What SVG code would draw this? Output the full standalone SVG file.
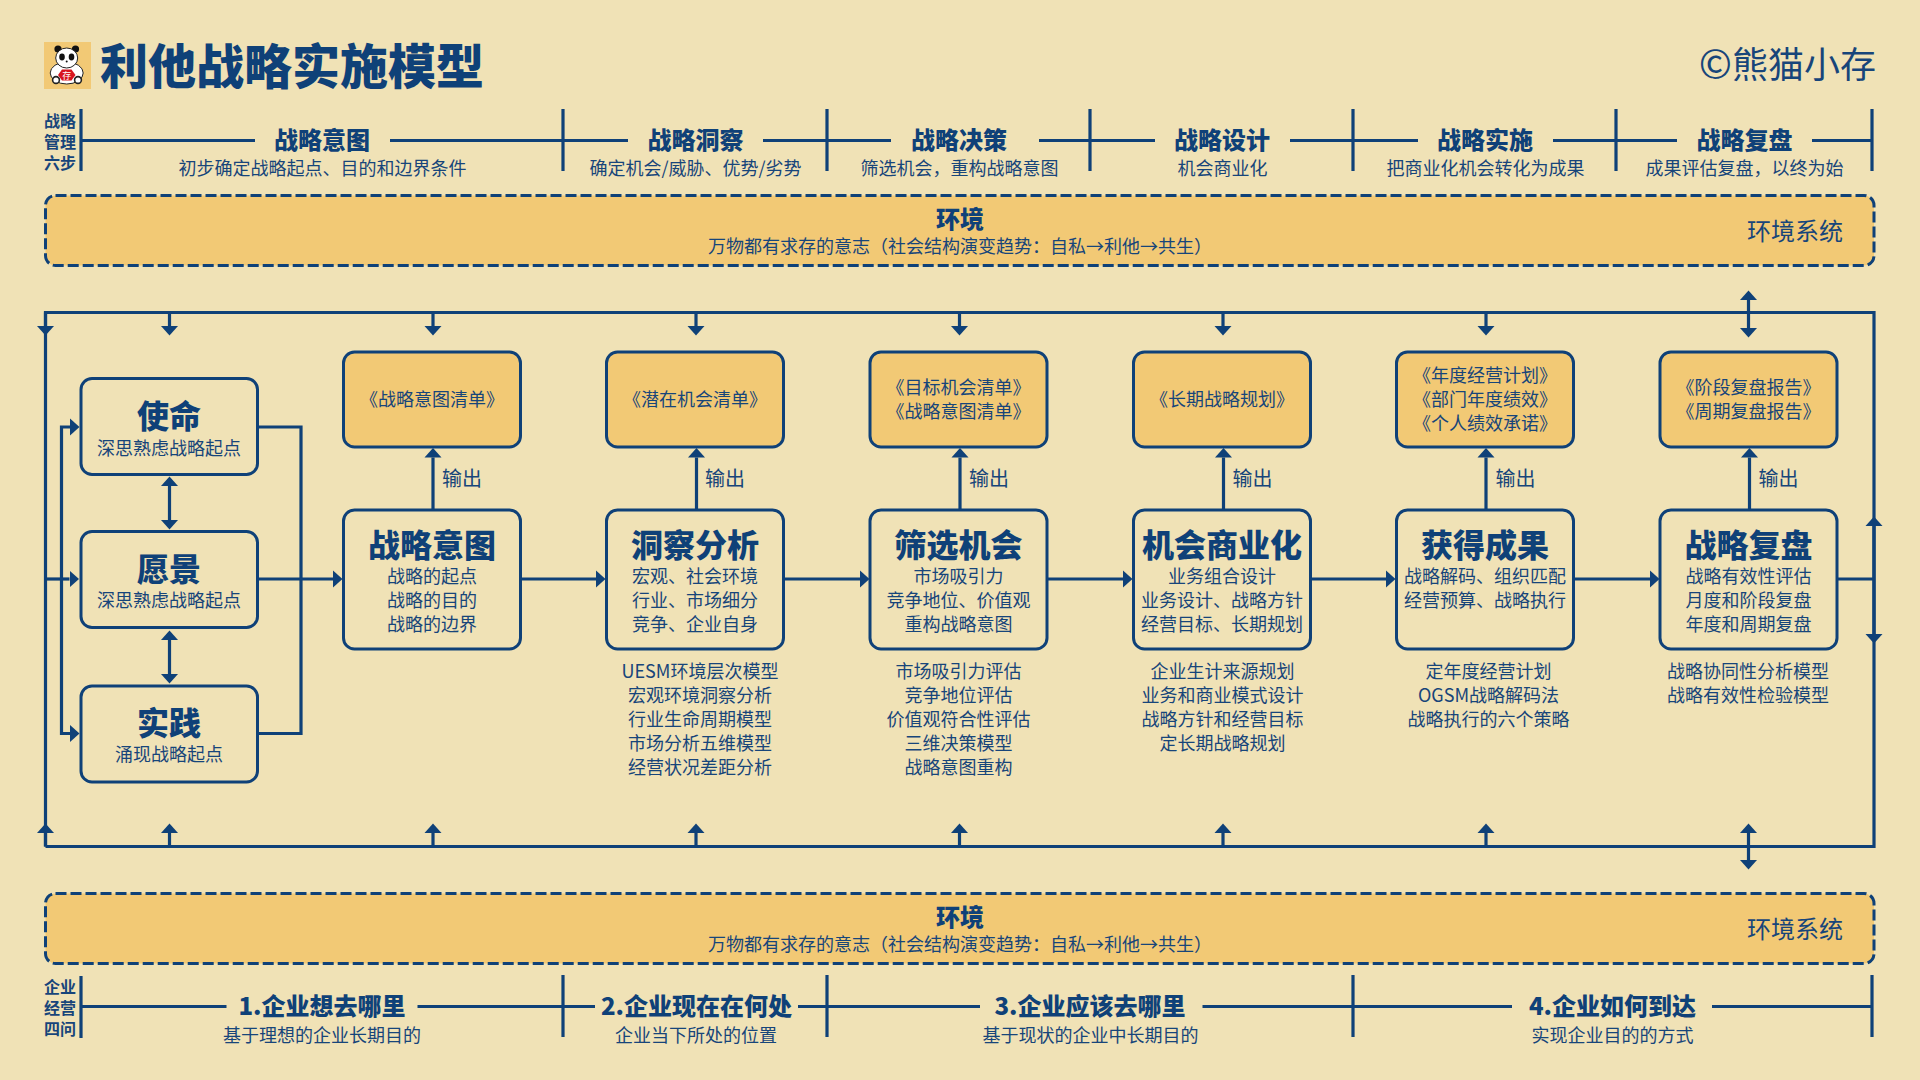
<svg xmlns="http://www.w3.org/2000/svg" width="1920" height="1080" viewBox="0 0 1920 1080">
<style>
text{font-family:"Noto Sans CJK SC","Microsoft YaHei",sans-serif;fill:#17457a;text-anchor:middle}
.t48{font-size:48px;font-weight:900;fill:#0f4178;text-anchor:start}
.t32{font-size:32px;font-weight:900;fill:#0f4178}
.t24{font-size:24px;font-weight:900;fill:#0f4178}
.t24r{font-size:24px}
.t20{font-size:20px}
.t18{font-size:18px}
.t16{font-size:16px;font-weight:700;fill:#0f4178}
.box{fill:#f0e2b6;stroke:#0f4178;stroke-width:3}
.out{fill:#f2c975;stroke:#0f4178;stroke-width:3}
.env{fill:#f2c975;stroke:#0f4178;stroke-width:3;stroke-dasharray:11 4}
.l{fill:none;stroke:#0f4178;stroke-width:3.2}
.a{fill:none;stroke:#0f4178;stroke-width:3.2;marker-end:url(#ah)}
.d{fill:none;stroke:#0f4178;stroke-width:3.2;marker-start:url(#ah);marker-end:url(#ah)}
</style>
<defs>
<marker id="ah" markerUnits="userSpaceOnUse" markerWidth="12" markerHeight="20" viewBox="0 -10 12 20" refX="0" refY="0" orient="auto-start-reverse"><path d="M0,-8.5 L9.5,0 L0,8.5 Z" fill="#0f4178"/></marker>
</defs>
<rect width="1920" height="1080" fill="#f0e2b6"/>

<g id="title">
<rect x="44" y="42" width="47" height="47" fill="#f2c975"/>
<circle cx="58" cy="49" r="3.6" fill="#111"/><circle cx="75.500" cy="49" r="3.6" fill="#111"/>
<ellipse cx="66.700" cy="73" rx="16.500" ry="11" fill="#fff" stroke="#222" stroke-width="1"/>
<ellipse cx="66.700" cy="58" rx="11" ry="10" fill="#fff" stroke="#222" stroke-width="1"/>
<ellipse cx="62" cy="57" rx="2.800" ry="3.400" fill="#111"/><ellipse cx="71.500" cy="57" rx="2.800" ry="3.400" fill="#111"/>
<circle cx="66.700" cy="61.500" r="1" fill="#111"/>
<path d="M58,75 L62,69.500 H71.500 L75.500,75 L71.500,80.500 H62 Z" fill="#d8141f"/>
<circle cx="56" cy="80" r="3.400" fill="#fff" stroke="#222" stroke-width="1.600"/><circle cx="78" cy="80" r="3.400" fill="#fff" stroke="#222" stroke-width="1.600"/>
<text x="66.700" y="78.500" style="font-size:9px;fill:#fff">存</text>
<text class="t48" x="100" y="84">利他战略实施模型</text>
<text x="1876" y="78" style="font-size:36px;text-anchor:end"><tspan style="font-size:40px">©</tspan>熊猫小存</text>
</g>

<g id="top-steps">
<path class="l" d="M81,109V171M563,109V171M827,109V171M1090,109V171M1353,109V171M1616,109V171M1872,109V171"/>
<path class="l" d="M81,140.500H255M390,140.500H628M763,140.500H891M1039,140.500H1155M1290,140.500H1418M1553,140.500H1677M1812,140.500H1872"/>
<g class="t16"><text x="60" y="127">战略</text><text x="60" y="148">管理</text><text x="60" y="169">六步</text></g>
<text class="t24" x="322" y="149">战略意图</text><text class="t18" x="322.500" y="174.500">初步确定战略起点、目的和边界条件</text>
<text class="t24" x="695.500" y="149">战略洞察</text><text class="t18" x="695.500" y="174.500">确定机会/威胁、优势/劣势</text>
<text class="t24" x="959" y="149">战略决策</text><text class="t18" x="959.500" y="174.500">筛选机会，重构战略意图</text>
<text class="t24" x="1222" y="149">战略设计</text><text class="t18" x="1222.500" y="174.500">机会商业化</text>
<text class="t24" x="1485" y="149">战略实施</text><text class="t18" x="1485.500" y="174.500">把商业化机会转化为成果</text>
<text class="t24" x="1744.500" y="149">战略复盘</text><text class="t18" x="1744.500" y="174.500">成果评估复盘，以终为始</text>
</g>

<g id="env-top">
<rect class="env" x="45.500" y="195.500" width="1828.500" height="70" rx="10"/>
<text class="t24" x="960" y="228">环境</text>
<text class="t18" x="960" y="252.500">万物都有求存的意志（社会结构演变趋势：自私→利他→共生）</text>
<text class="t24r" x="1795" y="240">环境系统</text>
</g>

<g id="connectors">
<path class="l" d="M45.500,846.500V312.500H1874V846.500H45.500"/>
<path class="a" d="M45.500,312.500V326"/>
<path class="a" d="M169.500,312.500V326"/><path class="a" d="M433,312.500V326"/><path class="a" d="M696,312.500V326"/><path class="a" d="M959.500,312.500V326"/><path class="a" d="M1223,312.500V326"/><path class="a" d="M1486,312.500V326"/>
<path class="d" d="M1748.500,300V328"/>
<path class="a" d="M45.500,846.500V833"/>
<path class="a" d="M169.500,846.500V833"/><path class="a" d="M433,846.500V833"/><path class="a" d="M696,846.500V833"/><path class="a" d="M959.500,846.500V833"/><path class="a" d="M1223,846.500V833"/><path class="a" d="M1486,846.500V833"/>
<path class="d" d="M1748.500,833V860"/>
<path class="a" d="M1874,579V526"/><path class="a" d="M1874,579V634"/>
<path class="a" d="M45.500,579H69.500"/>
<path class="d" d="M70,427H61.500V733.500H70"/>
<path class="d" d="M169.500,486V520"/><path class="d" d="M169.500,640V674"/>
<path class="l" d="M258,427H301V733.500H258"/>
<path class="a" d="M258,579H333"/>
<path class="a" d="M521,579H596"/><path class="a" d="M784,579H860"/><path class="a" d="M1047,579H1123"/><path class="a" d="M1311,579H1386"/><path class="a" d="M1574,579H1650"/>
<path class="l" d="M1837,579H1874"/>
<path class="a" d="M433,509V457.500"/><path class="a" d="M696.500,509V457.500"/><path class="a" d="M960,509V457.500"/><path class="a" d="M1223.500,509V457.500"/><path class="a" d="M1486,509V457.500"/><path class="a" d="M1749.500,509V457.500"/>
</g>

<g id="mission"><rect class="box" x="81" y="378.500" width="176.500" height="96" rx="11"/><text class="t32" x="169" y="428">使命</text><text class="t18" x="169" y="454.500">深思熟虑战略起点</text></g>
<g id="vision"><rect class="box" x="81" y="531.500" width="176.500" height="96" rx="11"/><text class="t32" x="169" y="581">愿景</text><text class="t18" x="169" y="606.500">深思熟虑战略起点</text></g>
<g id="practice"><rect class="box" x="81" y="686" width="176.500" height="96" rx="11"/><text class="t32" x="169" y="735">实践</text><text class="t18" x="169" y="760.500">涌现战略起点</text></g>

<g id="intent">
<rect class="out" x="343.500" y="352" width="177" height="95" rx="11"/><text class="t18" x="432" y="405.500">《战略意图清单》</text>
<text class="t20" x="462" y="486">输出</text>
<rect class="box" x="343.500" y="510" width="177" height="139" rx="11"/><text class="t32" x="432" y="556.500">战略意图</text>
<text class="t18" x="432" y="582.500">战略的起点</text><text class="t18" x="432" y="606.500">战略的目的</text><text class="t18" x="432" y="630.500">战略的边界</text>
</g>
<g id="insight">
<rect class="out" x="606.500" y="352" width="177" height="95" rx="11"/><text class="t18" x="695" y="405.500">《潜在机会清单》</text>
<text class="t20" x="725" y="486">输出</text>
<rect class="box" x="606.500" y="510" width="177" height="139" rx="11"/><text class="t32" x="695" y="556.500">洞察分析</text>
<text class="t18" x="695" y="582.500">宏观、社会环境</text><text class="t18" x="695" y="606.500">行业、市场细分</text><text class="t18" x="695" y="630.500">竞争、企业自身</text>
<text class="t18" x="700" y="677.500">UESM环境层次模型</text><text class="t18" x="700" y="701.500">宏观环境洞察分析</text><text class="t18" x="700" y="725.500">行业生命周期模型</text><text class="t18" x="700" y="749.500">市场分析五维模型</text><text class="t18" x="700" y="773.500">经营状况差距分析</text>
</g>
<g id="screen">
<rect class="out" x="870" y="352" width="177" height="95" rx="11"/><text class="t18" x="958.500" y="393.500">《目标机会清单》</text><text class="t18" x="958.500" y="417.500">《战略意图清单》</text>
<text class="t20" x="989" y="486">输出</text>
<rect class="box" x="870" y="510" width="177" height="139" rx="11"/><text class="t32" x="958.500" y="556.500">筛选机会</text>
<text class="t18" x="958.500" y="582.500">市场吸引力</text><text class="t18" x="958.500" y="606.500">竞争地位、价值观</text><text class="t18" x="958.500" y="630.500">重构战略意图</text>
<text class="t18" x="958.500" y="677.500">市场吸引力评估</text><text class="t18" x="958.500" y="701.500">竞争地位评估</text><text class="t18" x="958.500" y="725.500">价值观符合性评估</text><text class="t18" x="958.500" y="749.500">三维决策模型</text><text class="t18" x="958.500" y="773.500">战略意图重构</text>
</g>
<g id="commercial">
<rect class="out" x="1133.500" y="352" width="177" height="95" rx="11"/><text class="t18" x="1222" y="405.500">《长期战略规划》</text>
<text class="t20" x="1252.500" y="486">输出</text>
<rect class="box" x="1133.500" y="510" width="177" height="139" rx="11"/><text class="t32" x="1222" y="556.500">机会商业化</text>
<text class="t18" x="1222" y="582.500">业务组合设计</text><text class="t18" x="1222" y="606.500">业务设计、战略方针</text><text class="t18" x="1222" y="630.500">经营目标、长期规划</text>
<text class="t18" x="1222.500" y="677.500">企业生计来源规划</text><text class="t18" x="1222.500" y="701.500">业务和商业模式设计</text><text class="t18" x="1222.500" y="725.500">战略方针和经营目标</text><text class="t18" x="1222.500" y="749.500">定长期战略规划</text>
</g>
<g id="results">
<rect class="out" x="1396.500" y="352" width="177" height="95" rx="11"/><text class="t18" x="1485" y="382">《年度经营计划》</text><text class="t18" x="1485" y="406">《部门年度绩效》</text><text class="t18" x="1485" y="430">《个人绩效承诺》</text>
<text class="t20" x="1515.500" y="486">输出</text>
<rect class="box" x="1396.500" y="510" width="177" height="139" rx="11"/><text class="t32" x="1485" y="556.500">获得成果</text>
<text class="t18" x="1485" y="582.500">战略解码、组织匹配</text><text class="t18" x="1485" y="606.500">经营预算、战略执行</text>
<text class="t18" x="1488.500" y="677.500">定年度经营计划</text><text class="t18" x="1488.500" y="701.500">OGSM战略解码法</text><text class="t18" x="1488.500" y="725.500">战略执行的六个策略</text>
</g>
<g id="review">
<rect class="out" x="1660" y="352" width="177" height="95" rx="11"/><text class="t18" x="1748.500" y="393.500">《阶段复盘报告》</text><text class="t18" x="1748.500" y="417.500">《周期复盘报告》</text>
<text class="t20" x="1778.500" y="486">输出</text>
<rect class="box" x="1660" y="510" width="177" height="139" rx="11"/><text class="t32" x="1748.500" y="556.500">战略复盘</text>
<text class="t18" x="1748.500" y="582.500">战略有效性评估</text><text class="t18" x="1748.500" y="606.500">月度和阶段复盘</text><text class="t18" x="1748.500" y="630.500">年度和周期复盘</text>
<text class="t18" x="1748" y="677.500">战略协同性分析模型</text><text class="t18" x="1748" y="701.500">战略有效性检验模型</text>
</g>

<g id="env-bottom">
<rect class="env" x="45.500" y="893.500" width="1828.500" height="70" rx="10"/>
<text class="t24" x="960" y="926">环境</text>
<text class="t18" x="960" y="950.500">万物都有求存的意志（社会结构演变趋势：自私→利他→共生）</text>
<text class="t24r" x="1795" y="938">环境系统</text>
</g>

<g id="bottom-questions">
<path class="l" d="M81,976V1038M563,975V1037M827,975V1037M1353,975V1037M1872,975V1037"/>
<path class="l" d="M81,1006.500H226.500M417.500,1006.500H595M798,1006.500H980M1202.500,1006.500H1512M1712,1006.500H1872"/>
<g class="t16"><text x="60" y="993">企业</text><text x="60" y="1014">经营</text><text x="60" y="1035">四问</text></g>
<text class="t24" x="322" y="1015">1.企业想去哪里</text><text class="t18" x="322" y="1041.500">基于理想的企业长期目的</text>
<text class="t24" x="696.500" y="1015">2.企业现在在何处</text><text class="t18" x="696" y="1041.500">企业当下所处的位置</text>
<text class="t24" x="1090" y="1015">3.企业应该去哪里</text><text class="t18" x="1090.500" y="1041.500">基于现状的企业中长期目的</text>
<text class="t24" x="1612.500" y="1015">4.企业如何到达</text><text class="t18" x="1612.500" y="1041.500">实现企业目的的方式</text>
</g>
</svg>
